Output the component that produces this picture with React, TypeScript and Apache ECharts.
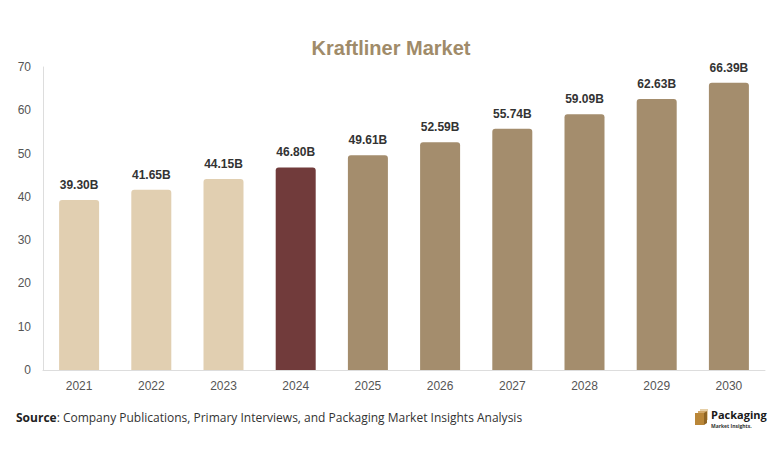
import React, { useEffect, useRef } from "react";
import * as echarts from "echarts";

const categories = ["2021", "2022", "2023", "2024", "2025", "2026", "2027", "2028", "2029", "2030"];
const values = [39.3, 41.65, 44.15, 46.8, 49.61, 52.59, 55.74, 59.09, 62.63, 66.39];
const barColors = ["#e1cfb1", "#e1cfb1", "#e1cfb1", "#713b3b", "#a48d6d", "#a48d6d", "#a48d6d", "#a48d6d", "#a48d6d", "#a48d6d"];

export default function App() {
  const ref = useRef<HTMLDivElement>(null);
  useEffect(() => {
    if (!ref.current) return;
    const chart = echarts.init(ref.current, null, { renderer: "svg" });
    chart.setOption({
      animation: false,
      backgroundColor: "#ffffff",
      title: {
        text: "Kraftliner Market",
        left: "center",
        top: 33,
        textStyle: { fontFamily: "Arial, Liberation Sans, sans-serif", fontSize: 20, fontWeight: "bold", color: "#a08b69" },
      },
      grid: { left: 43, right: 17, top: 67, bottom: 87, containLabel: false },
      xAxis: {
        type: "category",
        data: categories,
        axisLine: { lineStyle: { color: "#dddddd" } },
        axisTick: { show: false },
        axisLabel: { color: "#555555", fontSize: 12, margin: 10, fontFamily: "Arial, Liberation Sans, sans-serif" },
      },
      yAxis: {
        type: "value",
        min: 0,
        max: 70,
        interval: 10,
        axisLine: { show: true, lineStyle: { color: "#dddddd" } },
        axisTick: { show: false },
        splitLine: { show: false },
        axisLabel: { color: "#555555", fontSize: 12, margin: 12, fontFamily: "Arial, Liberation Sans, sans-serif" },
      },
      series: [
        {
          type: "bar",
          barWidth: 40,
          data: values.map((v, i) => ({ value: v, itemStyle: { color: barColors[i] } })),
          itemStyle: { borderRadius: [3, 3, 0, 0] },
          label: {
            show: true,
            position: "top",
            distance: 9,
            formatter: (p: any) => p.value.toFixed(2) + "B",
            fontFamily: "Arial, Liberation Sans, sans-serif",
            fontSize: 12,
            fontWeight: "bold",
            color: "#333333",
          },
        },
      ],
      graphic: [
        {
          type: "text",
          left: 16,
          top: 411,
          style: {
            rich: {
              b: { fontFamily: "Open Sans, sans-serif", fontSize: 12, fontWeight: "bold", fill: "#222222" },
              n: { fontFamily: "Open Sans, sans-serif", fontSize: 12, fill: "#333333" },
            },
            text: "{b|Source}{n|: Company Publications, Primary Interviews, and Packaging Market Insights Analysis}",
          },
        },
        {
          type: "group",
          left: 695,
          top: 409,
          children: [
            { type: "polygon", shape: { points: [[6, 0], [14, 0], [14, 11], [6, 11]] }, style: { fill: "#e6cfa6" } },
            { type: "polygon", shape: { points: [[4, 2], [12, 2], [12, 13], [4, 13]] }, style: { fill: "#d2a96a" } },
            { type: "polygon", shape: { points: [[1, 4], [10, 4], [10, 16], [1, 16]] }, style: { fill: "#b98638" } },
            { type: "polygon", shape: { points: [[10, 4], [13, 2], [13, 14], [10, 16]] }, style: { fill: "#8f6524" } },
            {
              type: "text",
              x: 17,
              y: 0,
              style: { text: "Packaging", fontFamily: "Open Sans, sans-serif", fontSize: 11, fontWeight: "bold", fill: "#1a1a1a" },
            },
            {
              type: "text",
              x: 17,
              y: 14,
              style: { text: "Market Insights.", fontFamily: "Open Sans, sans-serif", fontSize: 5, fontWeight: "bold", fill: "#333333" },
            },
          ],
        },
      ],
    });
    return () => chart.dispose();
  }, []);
  return <div ref={ref} style={{ position: "fixed", left: 0, top: 0, width: 782, height: 457 }} />;
}
